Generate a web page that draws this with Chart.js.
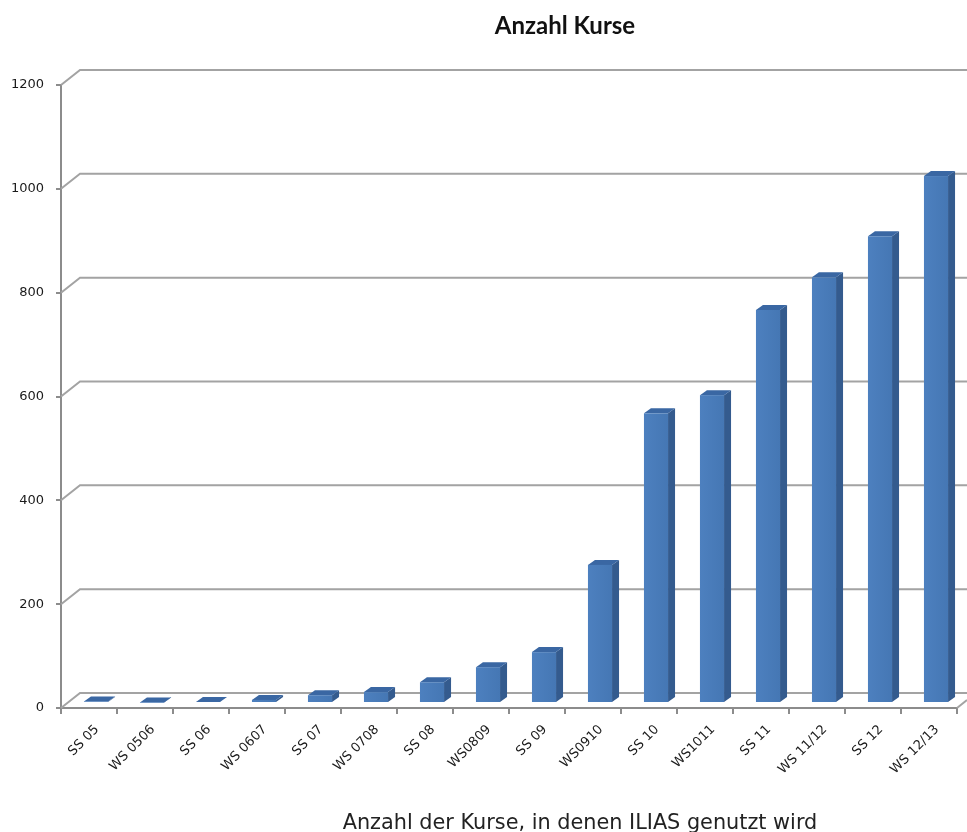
<!DOCTYPE html>
<html>
<head>
<meta charset="utf-8">
<script src="https://cdn.jsdelivr.net/npm/chart.js@4"></script>
<style>
	html, body { margin: 0; padding: 0; background: #fff; }
	#wrap { width: 967px; height: 832px; position: relative; }
</style>
</head>
<body>
<div id="wrap"><canvas id="chart"></canvas></div>
<script>
const semesters = ['SS 05', 'WS 0506', 'SS 06', 'WS 0607', 'SS 07', 'WS 0708', 'SS 08', 'WS0809',
	'SS 09', 'WS0910', 'SS 10', 'WS1011', 'SS 11', 'WS 11/12', 'SS 12', 'WS 12/13'];
const kurse = [3, 1, 2, 6, 15, 21, 40, 69, 98, 266, 558, 593, 757, 820, 899, 1015];
const yTicks = [0, 200, 400, 600, 800, 1000, 1200];

const titleText = 'Anzahl Kurse';
const captionText = 'Anzahl der Kurse, in denen ILIAS genutzt wird';

// 3D look: back wall offset and bar depth
const wallDx = 19, wallDy = 15;
const barDx = 7, barDy = 5;

const look3d = {
	id: 'look3d',
	beforeDatasetsDraw(chart) {
		const ctx = chart.ctx;
		const area = chart.chartArea;
		const y = chart.scales.y;
		ctx.save();
		ctx.strokeStyle = '#a3a3a3';
		ctx.lineWidth = 2;
		yTicks.forEach(v => {
			const py = y.getPixelForValue(v);
			ctx.beginPath();
			ctx.moveTo(area.left, py);
			ctx.lineTo(area.left + wallDx, py - wallDy);
			ctx.lineTo(chart.width, py - wallDy);
			ctx.stroke();
		});
		// right edge of the floor
		const py0 = y.getPixelForValue(0);
		ctx.beginPath();
		ctx.moveTo(area.right, py0);
		ctx.lineTo(area.right + 10, py0 - 8);
		ctx.stroke();
		ctx.restore();
	},
	afterDatasetsDraw(chart) {
		const ctx = chart.ctx;
		const meta = chart.getDatasetMeta(0);
		ctx.save();
		meta.data.forEach(bar => {
			const w = bar.width;
			const l = bar.x - w / 2 + barDx;
			const r = bar.x + w / 2 + barDx;
			const t = bar.y - barDy;
			const b = bar.base - barDy;
			// side
			ctx.fillStyle = '#345b8e';
			ctx.beginPath();
			ctx.moveTo(r, t);
			ctx.lineTo(r + barDx, t - barDy);
			ctx.lineTo(r + barDx, b - barDy);
			ctx.lineTo(r, b);
			ctx.closePath();
			ctx.fill();
			// top
			ctx.fillStyle = '#3a67a3';
			ctx.beginPath();
			ctx.moveTo(l, t);
			ctx.lineTo(l + barDx, t - barDy);
			ctx.lineTo(r + barDx, t - barDy);
			ctx.lineTo(r, t);
			ctx.closePath();
			ctx.fill();
			// front
			const g = ctx.createLinearGradient(l, 0, r, 0);
			g.addColorStop(0, '#4d80bf');
			g.addColorStop(1, '#4577b4');
			ctx.fillStyle = g;
			ctx.fillRect(l, t, r - l, b - t);
		});
		ctx.restore();
	},
	afterDraw(chart) {
		const ctx = chart.ctx;
		ctx.save();
		ctx.fillStyle = '#111';
		ctx.textAlign = 'center';
		ctx.textBaseline = 'alphabetic';
		ctx.font = 'bold 24px Lato, "Liberation Sans", sans-serif';
		ctx.fillText(titleText, 565, 34);
		ctx.font = '20px "DejaVu Sans", sans-serif';
		const wCap = ctx.measureText(captionText).width;
		const size = 20 * 474 / wCap;
		ctx.font = size.toFixed(1) + 'px "DejaVu Sans", sans-serif';
		ctx.fillStyle = '#222';
		ctx.fillText(captionText, 580, 829);
		ctx.restore();
	}
};

const config = {
	type: 'bar',
	data: {
		labels: semesters,
		datasets: [{
			label: 'Kurse',
			data: kurse,
			backgroundColor: 'rgba(0,0,0,0)',
			borderWidth: 0,
			categoryPercentage: 1,
			barPercentage: 0.43
		}]
	},
	options: {
		responsive: false,
		animation: false,
		layout: { padding: { top: 85, right: 10, left: 0, bottom: 0 } },
		plugins: {
			legend: { display: false },
			title: { display: false },
			tooltip: { enabled: false }
		},
		scales: {
			x: {
				offset: true,
				afterFit(scale) { scale.height = 124; },
				grid: { offset: true, drawOnChartArea: false, color: '#8c8c8c', lineWidth: 2, tickLength: 6 },
				border: { color: '#8c8c8c', width: 2 },
				ticks: {
					minRotation: 45,
					maxRotation: 45,
					autoSkip: false,
					labelOffset: 8,
					padding: 8,
					color: '#1a1a1a',
					font: { family: 'DejaVu Sans', size: 13 }
				}
			},
			y: {
				min: 0,
				max: 1200,
				afterFit(scale) { scale.width = 61; },
				afterBuildTicks(scale) { scale.ticks = yTicks.map(v => ({ value: v })); },
				grid: { drawOnChartArea: false, color: '#8c8c8c', lineWidth: 2, tickLength: 5 },
				border: { color: '#8c8c8c', width: 2 },
				ticks: {
					padding: 12,
					color: '#1a1a1a',
					font: { family: 'DejaVu Sans', size: 13 },
					callback: v => String(v)
				}
			}
		}
	},
	plugins: [look3d]
};

const canvas = document.getElementById('chart');
canvas.width = 967;
canvas.height = 832;
new Chart(canvas.getContext('2d'), config);
</script>
</body>
</html>
